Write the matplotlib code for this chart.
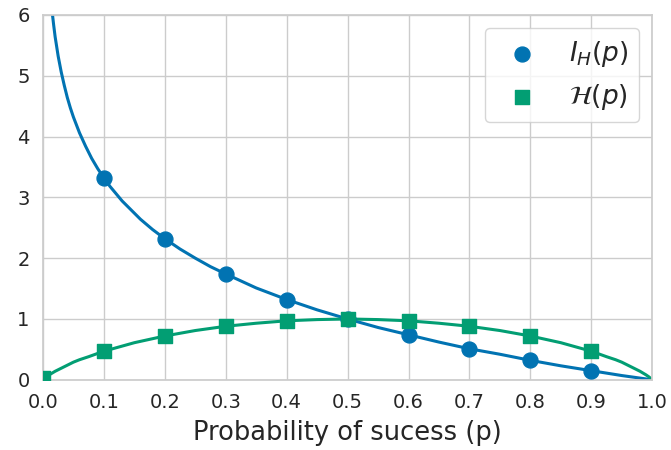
import matplotlib
matplotlib.use("Agg")
import matplotlib.pyplot as plt
import seaborn as sns

sns.set_theme(style="whitegrid", palette="colorblind")

# curves
p_info = [0.01, 0.012, 0.015, 0.0175, 0.02, 0.025, 0.03, 0.035, 0.04, 0.045, 0.05, 0.06, 0.07,
          0.08, 0.09, 0.1, 0.11, 0.12, 0.13, 0.14, 0.16, 0.18, 0.2, 0.225, 0.25, 0.275, 0.3,
          0.35, 0.4, 0.45, 0.5, 0.55, 0.6, 0.65, 0.7, 0.75, 0.8, 0.85, 0.9, 0.95, 1.0]
info_curve = [6.64, 6.38, 6.06, 5.84, 5.64, 5.32, 5.06, 4.84, 4.64, 4.47, 4.32, 4.06, 3.84,
              3.64, 3.47, 3.32, 3.18, 3.06, 2.94, 2.84, 2.64, 2.47, 2.32, 2.15, 2.0, 1.86, 1.74,
              1.51, 1.32, 1.15, 1.0, 0.86, 0.74, 0.62, 0.51, 0.42, 0.32, 0.23, 0.15, 0.07, 0.0]

p_ent = [0.0, 0.005, 0.01, 0.02, 0.03, 0.04, 0.05, 0.06, 0.075, 0.1, 0.125, 0.15, 0.2, 0.25,
         0.3, 0.35, 0.4, 0.45, 0.5, 0.55, 0.6, 0.65, 0.7, 0.75, 0.8, 0.85, 0.875, 0.9, 0.925,
         0.94, 0.95, 0.96, 0.97, 0.98, 0.99, 0.995, 1.0]
ent_curve = [0.02, 0.045, 0.08, 0.14, 0.19, 0.24, 0.29, 0.33, 0.38, 0.47, 0.54, 0.61, 0.72, 0.81,
             0.88, 0.93, 0.97, 0.99, 1.0, 0.99, 0.97, 0.93, 0.88, 0.81, 0.72, 0.61, 0.54, 0.47, 0.38,
             0.33, 0.29, 0.24, 0.19, 0.14, 0.08, 0.045, 0.0]

# markers
p_info_pts = [0.1, 0.2, 0.3, 0.4, 0.5, 0.6, 0.7, 0.8, 0.9]
info_pts = [3.32, 2.32, 1.74, 1.32, 1.0, 0.74, 0.51, 0.32, 0.15]
p_ent_pts = [0.0, 0.1, 0.2, 0.3, 0.4, 0.5, 0.6, 0.7, 0.8, 0.9]
ent_pts = [0.03, 0.47, 0.72, 0.88, 0.97, 1.0, 0.97, 0.88, 0.72, 0.47]

blue = "#0173b2"
green = "#029e73"

fig = plt.figure(figsize=(6.71, 4.5), dpi=100)
ax = fig.add_axes([0.064, 0.156, 0.908, 0.811])

ax.plot(p_info, info_curve, color=blue, lw=2.2)
ax.plot(p_ent, ent_curve, color=green, lw=2.2)
ax.scatter(p_info_pts, info_pts, color=blue, marker="o", s=115, zorder=3, label=r"$I_H(p)$")
ax.scatter(p_ent_pts, ent_pts, color=green, marker="s", s=110, zorder=3, label=r"$\mathcal{H}(p)$")

ax.set_xlim(0, 1)
ax.set_ylim(0, 6)
ax.set_xticks([0.0, 0.1, 0.2, 0.3, 0.4, 0.5, 0.6, 0.7, 0.8, 0.9, 1.0])
ax.tick_params(labelsize=14)
ax.set_xlabel("Probability of sucess (p)", fontsize=18.5, labelpad=6)
ax.legend(loc="upper right", fontsize=19)

fig.savefig("out.png")
